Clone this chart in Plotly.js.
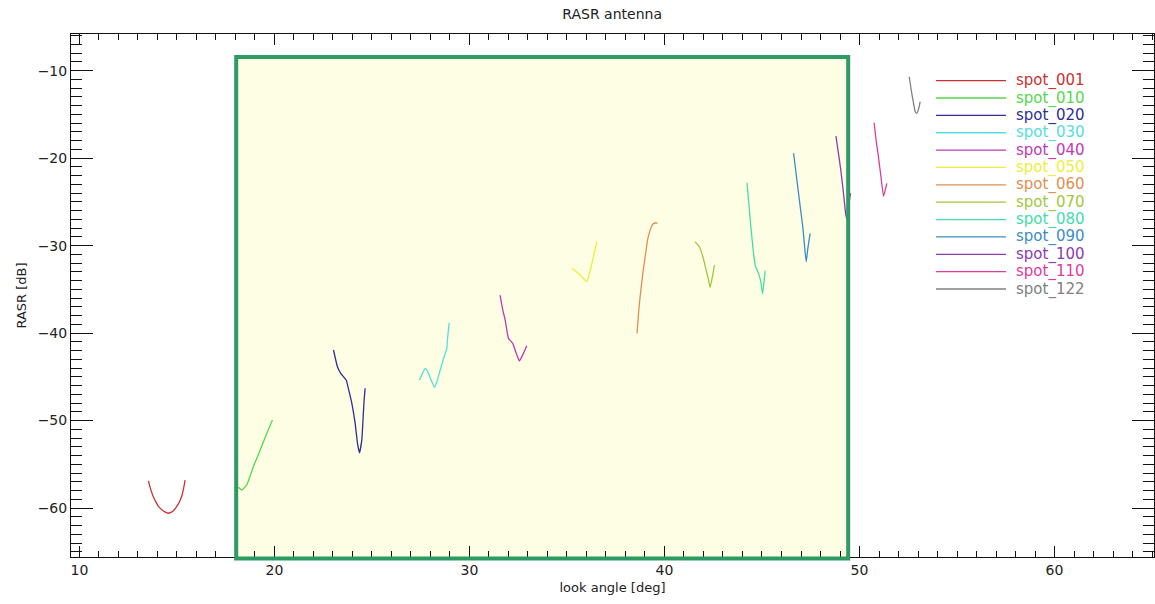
<!DOCTYPE html>
<html><head><meta charset="utf-8">
<script src="https://cdn.plot.ly/plotly-3.0.1.min.js"></script>
<style>html,body{margin:0;padding:0;background:#fff;}</style>
</head><body>
<div id="chart" style="width:1155px;height:604px;"></div>
<script>
// ---- data ----
const seriesNames = ["spot_001","spot_010","spot_020","spot_030","spot_040","spot_050","spot_060","spot_070","spot_080","spot_090","spot_100","spot_110","spot_122"];
const seriesColors = ["#c83232","#55d84a","#2e2e96","#55dede","#c238b8","#eeee3a","#e0904e","#a2c83e","#44dcaa","#3c8cc8","#8a3cb2","#dc3ca0","#808080"];

const x_spot_001 = [13.54,13.66,13.79,13.92,14.05,14.18,14.31,14.44,14.56,14.69,14.82,14.95,15.08,15.17,15.25,15.34,15.42];
const y_spot_001 = [-56.9,-57.9,-58.7,-59.3,-59.8,-60.1,-60.35,-60.5,-60.6,-60.5,-60.3,-59.95,-59.5,-59.1,-58.6,-57.8,-56.8];
const x_spot_010 = [18.15,18.33,18.58,18.92,19.27,19.61,19.90];
const y_spot_010 = [-57.63,-57.94,-57.37,-55.28,-53.37,-51.46,-49.94];
const x_spot_020 = [23.03,23.23,23.40,23.68,23.79,23.97,24.14,24.26,24.36,24.48,24.56,24.60,24.65];
const y_spot_020 = [-41.93,-43.84,-44.6,-45.37,-46.31,-48.03,-50.32,-52.6,-53.68,-52.23,-49.17,-47.65,-46.31];
const x_spot_030 = [27.44,27.59,27.74,27.90,28.07,28.21,28.36,28.50,28.70,28.84,28.87,28.96];
const y_spot_030 = [-45.37,-44.6,-44.03,-44.6,-45.56,-46.2,-45.37,-44.22,-42.7,-41.74,-40.79,-38.81];
const x_spot_040 = [31.57,31.71,31.83,32.00,32.22,32.43,32.56,32.77,32.94];
const y_spot_040 = [-35.65,-37.36,-38.5,-40.6,-41.17,-42.51,-43.19,-42.31,-41.44];
const x_spot_050 = [35.25,35.68,36.02,36.28,36.53];
const y_spot_050 = [-32.59,-33.36,-34.12,-32.02,-29.55];
const x_spot_060 = [38.59,38.67,38.75,38.89,39.01,39.13,39.27,39.40,39.56,39.64];
const y_spot_060 = [-40.03,-37.74,-35.84,-33.17,-31.27,-29.36,-28.21,-27.56,-27.38,-27.45];
const x_spot_070 = [41.57,41.79,41.97,42.14,42.26,42.34,42.46,42.56];
const y_spot_070 = [-29.55,-30.12,-31.27,-32.79,-33.93,-34.77,-33.55,-32.22];
const x_spot_080 = [44.23,44.34,44.43,44.53,44.65,44.82,44.94,45.03,45.13,45.16];
const y_spot_080 = [-22.81,-25.55,-27.84,-30.12,-32.22,-33.17,-34.12,-35.53,-33.55,-32.87];
const x_spot_090 = [46.62,46.79,46.96,47.10,47.20,47.27,47.35,47.47];
const y_spot_090 = [-19.44,-22.5,-25.55,-28.02,-30.5,-31.84,-30.31,-28.59];
const x_spot_100 = [48.79,48.92,49.04,49.18,49.30,49.38,49.46,49.54];
const y_spot_100 = [-17.47,-19.44,-21.35,-24.02,-26.5,-27.0,-25.2,-24.0];
const x_spot_110 = [50.75,50.85,50.97,51.10,51.23,51.32,51.40];
const y_spot_110 = [-15.95,-17.92,-19.83,-22.12,-24.33,-23.64,-22.87];
const x_spot_122 = [52.55,52.65,52.77,52.86,52.94,53.06,53.11];
const y_spot_122 = [-10.69,-12.2,-13.73,-14.69,-14.87,-14.12,-13.54];

const seriesX = [x_spot_001,x_spot_010,x_spot_020,x_spot_030,x_spot_040,x_spot_050,x_spot_060,x_spot_070,x_spot_080,x_spot_090,x_spot_100,x_spot_110,x_spot_122];
const seriesY = [y_spot_001,y_spot_010,y_spot_020,y_spot_030,y_spot_040,y_spot_050,y_spot_060,y_spot_070,y_spot_080,y_spot_090,y_spot_100,y_spot_110,y_spot_122];

// highlighted look-angle window
const windowX = [18.04, 49.42];
const windowTop = -8.43;

const xRange = [9.57, 65.1];
const yRange = [-65.6, -5.8];

// ---- build ----
const FONT = "DejaVu Sans, sans-serif";
const traces = seriesNames.map((n, i) => ({
  type: "scatter", mode: "lines", name: n,
  x: seriesX[i], y: seriesY[i],
  line: {color: seriesColors[i], width: 1.3, shape: "spline", smoothing: 0.4},
  showlegend: false
}));

function yPaper(v){ return (v - yRange[0]) / (yRange[1] - yRange[0]); }

const shapes = [
  {type:"rect", layer:"below", xref:"x", yref:"paper", x0:windowX[0], x1:windowX[1], y0:0, y1:yPaper(windowTop),
   fillcolor:"#fefee4", line:{width:0}},
  {type:"rect", layer:"above", xref:"x", yref:"paper", x0:windowX[0], x1:windowX[1], y0:-0.003, y1:yPaper(windowTop),
   fillcolor:"rgba(0,0,0,0)", line:{color:"#2e9a64", width:4}}
];
const annotations = [];
// legend (paper coordinates)
const legX0 = 0.7987, legX1 = 0.8633, legTextX = 0.8705;
const legTop = 0.9108, legStep = 0.0332;
seriesNames.forEach((n, i) => {
  const yy = legTop - i * legStep;
  shapes.push({type:"line", xref:"paper", yref:"paper", x0:legX0, x1:legX1, y0:yy, y1:yy,
    line:{color:seriesColors[i], width:1.3}});
  annotations.push({xref:"paper", yref:"paper", x:legTextX, y:yy, xanchor:"left", yanchor:"middle",
    text:n, showarrow:false, font:{family:FONT, size:15, color:seriesColors[i]}});
});

const layout = {
  width:1155, height:604,
  margin:{l:71, r:1, t:34, b:47},
  paper_bgcolor:"#ffffff", plot_bgcolor:"#ffffff",
  font:{family:FONT, size:14, color:"#222"},
  title:{text:"RASR antenna", x:0.53, xanchor:"center", y:0.976, yanchor:"middle", font:{family:FONT, size:14, color:"#222"}},
  showlegend:false,
  xaxis:{range:xRange, tick0:10, dtick:10, ticks:"inside", ticklen:11, tickwidth:1, tickcolor:"#111",
    showline:true, linecolor:"#111", linewidth:1, mirror:"allticks", showgrid:false, zeroline:false,
    minor:{dtick:1, ticks:"inside", ticklen:6, tickwidth:1, tickcolor:"#111", showgrid:false},
    tickfont:{family:FONT, size:14, color:"#222"},
    title:{text:"look angle [deg]", font:{family:FONT, size:13, color:"#222"}, standoff:6}},
  yaxis:{range:yRange, tick0:-10, dtick:10, ticks:"inside", ticklen:22, tickwidth:1, tickcolor:"#111",
    showline:true, linecolor:"#111", linewidth:1, mirror:"allticks", showgrid:false, zeroline:false,
    minor:{dtick:1, ticks:"inside", ticklen:11, tickwidth:1, tickcolor:"#111", showgrid:false},
    tickfont:{family:FONT, size:14, color:"#222"},
    title:{text:"RASR [dB]", font:{family:FONT, size:13, color:"#222"}, standoff:8}},
  shapes: shapes,
  annotations: annotations
};
Plotly.newPlot("chart", traces, layout, {displayModeBar:false, staticPlot:true});
</script>
</body></html>
